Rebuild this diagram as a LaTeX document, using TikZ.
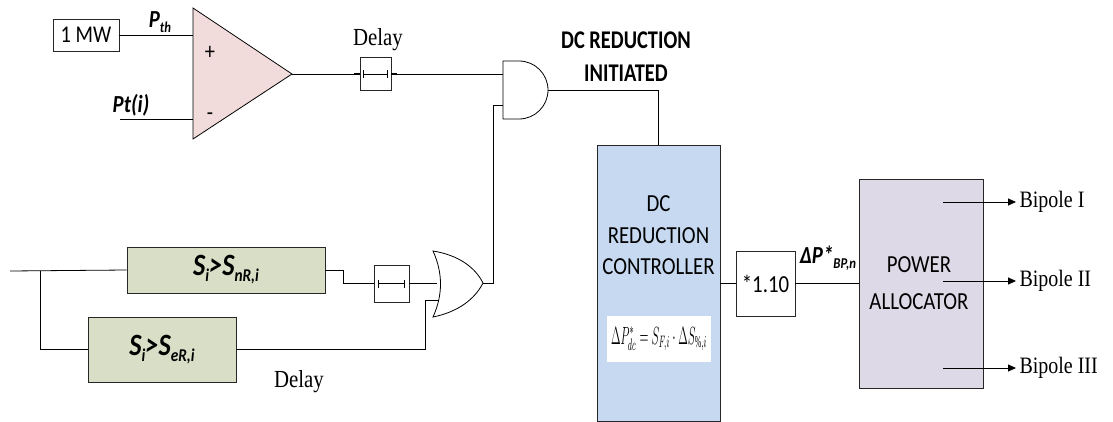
\documentclass[tikz,border=0pt]{standalone}
\usepackage{fontspec}
\usepackage{graphicx}
\setmainfont{Liberation Serif}
\newfontfamily\calfont[FakeStretch=0.85]{Carlito}
\newfontfamily\calfontb[FakeStretch=0.80]{Carlito}
\newfontfamily\serfont[FakeStretch=0.85]{Liberation Serif}
\usetikzlibrary{arrows.meta,calc}
\definecolor{pinkf}{RGB}{242,220,219}
\definecolor{greenf}{RGB}{217,223,199}
\definecolor{bluef}{RGB}{198,217,240}
\definecolor{lavf}{RGB}{221,217,230}
\newcommand{\lowsub}[3]{\raisebox{-#1}{\fontsize{#2}{#2}\selectfont #3}}
\begin{document}
\begin{tikzpicture}[x=1pt,y=-1pt,
  wire/.style={draw=black,line width=0.8pt},
  blk/.style={draw=black!85,line width=0.9pt,inner sep=0pt},
  sans/.style={font=\calfont\fontsize{24.5}{29}\selectfont},
  sansbi/.style={font=\calfont\fontsize{24.5}{29}\selectfont\bfseries\itshape},
  serlbl/.style={font=\serfont\fontsize{23.5}{27}\selectfont},
  outarrow/.style={wire,-{Triangle[length=8pt,width=7pt]}}
]
\useasboundingbox (0,0) rectangle (1113,422);

% ---- top: comparator ----
\node[blk,minimum width=66pt,minimum height=32pt,font=\calfont\fontsize{24}{28}\selectfont] (mw) at (86,35) {1 MW};
\coordinate (opT) at (193,8);
\coordinate (opB) at (193,139);
\coordinate (opout) at (292,74);
\coordinate (opin1) at (193,35);
\coordinate (opin2) at (193,119);
\coordinate (ptin) at (120,119);
\filldraw[fill=pinkf,draw=black,line width=0.8pt] (opT) -- (opout) -- (opB) -- cycle;
\node[font=\calfont\fontsize{24}{28}\selectfont] (plus) at (210,53) {+};
\node[font=\calfont\fontsize{24}{28}\selectfont] (minus) at (210,117) {-};
\node[sansbi] (pth) at (160,22) {P\lowsub{5pt}{15}{th}};
\node[sansbi] (pti) at (131,105) {Pt(i)};
\draw[wire] (mw.east) -- (opin1);
\draw[wire] (ptin) -- (opin2);

% ---- delay 1 ----
\node[blk,minimum width=31pt,minimum height=33pt] (d1) at (375.5,74) {};
\node[font=\serfont\fontsize{24.5}{28}\selectfont] (dl1) at (378,40) {Delay};
\draw[wire] (opout) -- (d1.west);
\draw[line width=1.6pt] ([xshift=-6pt]d1.west) -- (d1.west);
\draw[line width=1.6pt] (d1.east) -- ([xshift=6pt]d1.east);
\draw[line width=0.5pt] ([xshift=-12pt]d1.center) -- ([xshift=12pt]d1.center);
\draw[line width=0.5pt] ([xshift=-12pt,yshift=-4pt]d1.center) -- ([xshift=-12pt,yshift=4pt]d1.center);
\draw[line width=0.5pt] ([xshift=12pt,yshift=-4pt]d1.center) -- ([xshift=12pt,yshift=4pt]d1.center);

% ---- AND gate ----
\coordinate (andin1) at (503,74);
\coordinate (andin2) at (503,105);
\coordinate (andout) at (548,90);
\draw[line width=0.8pt,fill=white] (503,61) -- (519,61) arc[start angle=-90,end angle=90,radius=29] -- (503,119) -- cycle;
\draw[wire] (d1.east) -- (andin1);

\node[font=\calfontb\fontsize{25.5}{33}\selectfont\bfseries,align=center] (title) at (626,56.5) {DC REDUCTION\\INITIATED};

% ---- DC reduction controller ----
\node[blk,fill=bluef,minimum width=123pt,minimum height=276pt] (ctrl) at (658.5,283) {};
\node[align=center,font=\calfont\fontsize{24.5}{31.5}\selectfont] (ctrltxt) at (658.5,235.5) {DC\\REDUCTION\\CONTROLLER};
\node[fill=white,minimum width=104pt,minimum height=46pt,inner sep=0pt] (formula) at (659,339)
  {\resizebox*{96pt}{24pt}{\fontsize{12}{14}\selectfont$\Delta P^{*}_{dc} = S_{F,i}\cdot \Delta S_{\%,i}$}};
\draw[wire] (andout) -| (ctrl.north);

% ---- gain ----
\node[blk,minimum width=59pt,minimum height=65pt,sans] (mul) at (765.5,283.5) {*1.10};
\draw[wire] (ctrl.east |- mul.west) -- (mul.west);

% ---- power allocator ----
\node[blk,fill=lavf,minimum width=124pt,minimum height=209pt] (pa) at (921,283.5) {};
\node[align=center,font=\calfont\fontsize{24.5}{37}\selectfont] (patxt) at (919,283.5) {POWER\\ALLOCATOR};
\draw[wire] (mul.east) -- (pa.west);
\node[sansbi,anchor=south] (dp) at (828,274) {ΔP*\lowsub{5pt}{15}{BP,n}};

\coordinate (b1s) at (943,202);
\coordinate (b2s) at (943,281);
\coordinate (b3s) at (943,368);
\node[serlbl,anchor=west] (bp1) at (1016,202) {Bipole I};
\node[serlbl,anchor=west] (bp2) at (1016,281) {Bipole II};
\node[serlbl,anchor=west] (bp3) at (1016,368) {Bipole III};
\draw[outarrow] (b1s) -- (bp1.west);
\draw[outarrow] (b2s) -- (bp2.west);
\draw[outarrow] (b3s) -- (bp3.west);

% ---- lower branch ----
\coordinate (in) at (10,271);
\coordinate (br) at (40,271);
\node[blk,fill=greenf,minimum width=198pt,minimum height=46pt] (box1) at (226,270) {};
\node[font=\calfont\fontsize{31}{36}\selectfont\bfseries\itshape] (t1) at (226,270) {S\lowsub{6pt}{18}{i}>S\lowsub{6pt}{18}{nR,i}};
\node[blk,fill=greenf,minimum width=148pt,minimum height=65pt] (box2) at (162,349.5) {};
\node[font=\calfont\fontsize{31}{36}\selectfont\bfseries\itshape] (t2) at (162,349.5) {S\lowsub{6pt}{18}{i}>S\lowsub{6pt}{18}{eR,i}};
\draw[wire] (in) -- (box1.west);
\draw[wire] (br) |- (box2.west);

\node[blk,minimum width=35pt,minimum height=37pt] (d2) at (391.5,283.5) {};
\node[font=\serfont\fontsize{24.5}{28}\selectfont] (dl2) at (299,382) {Delay};
\coordinate (k1) at (343,270);
\draw[wire] (box1.east) -- (k1) |- (d2.west);
\draw[line width=1.6pt] ([xshift=-6pt]d2.west) -- (d2.west);
\draw[line width=1.6pt] (d2.east) -- ([xshift=6pt]d2.east);
\draw[line width=0.5pt] ([xshift=-13pt]d2.center) -- ([xshift=13pt]d2.center);
\draw[line width=0.5pt] ([xshift=-13pt,yshift=-4pt]d2.center) -- ([xshift=-13pt,yshift=4pt]d2.center);
\draw[line width=0.5pt] ([xshift=13pt,yshift=-4pt]d2.center) -- ([xshift=13pt,yshift=4pt]d2.center);

% ---- OR gate ----
\coordinate (orin1) at (437,283.5);
\coordinate (orin2) at (439,300);
\coordinate (orout) at (483,283);
\draw[line width=0.8pt,fill=white] (433,251) .. controls (458,255) and (475,267) .. (orout)
  .. controls (475,299) and (458,312) .. (433,317)
  .. controls (443,295) and (443,273) .. (433,251) -- cycle;
\draw[wire] (d2.east) -- (orin1);
\coordinate (k2) at (425,300);
\draw[wire] (box2.east) -| (k2) -- (orin2);
\coordinate (k3) at (493,283);
\draw[wire] (orout) -- (k3) |- (andin2);
\end{tikzpicture}
\end{document}
